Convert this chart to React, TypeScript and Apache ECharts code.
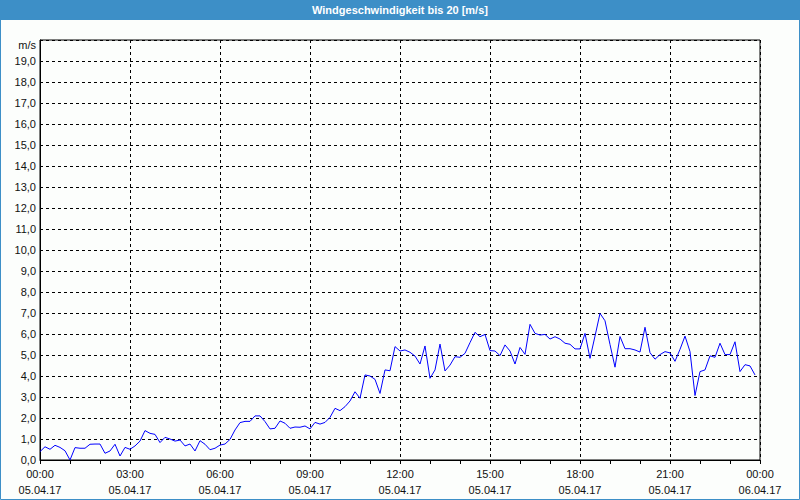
import React, { useEffect, useRef } from "react";
import * as echarts from "echarts";

const TITLE = "Windgeschwindigkeit bis 20 [m/s]";
const UNIT = "m/s";
const INTERVAL_MINUTES = 10;

// wind speed in m/s, one value every 10 minutes from 05.04.17 00:00 to 23:50
const windSpeed = [
  0.40, 0.63, 0.51, 0.70, 0.60, 0.44, 0.00, 0.59, 0.56, 0.56,
  0.75, 0.76, 0.76, 0.32, 0.43, 0.75, 0.19, 0.60, 0.51, 0.67,
  0.90, 1.40, 1.27, 1.22, 0.83, 1.08, 1.00, 0.90, 0.95, 0.67,
  0.76, 0.43, 0.92, 0.75, 0.49, 0.56, 0.71, 0.76, 0.98, 1.43,
  1.78, 1.84, 1.84, 2.10, 2.10, 1.83, 1.48, 1.51, 1.86, 1.75,
  1.51, 1.57, 1.56, 1.62, 1.48, 1.79, 1.71, 1.79, 2.03, 2.46,
  2.35, 2.54, 2.81, 3.25, 2.94, 4.05, 4.00, 3.84, 3.17, 4.29,
  4.25, 5.40, 5.19, 5.24, 5.13, 4.95, 4.57, 5.43, 3.89, 4.29,
  5.52, 4.24, 4.52, 4.92, 4.89, 5.08, 5.59, 6.08, 5.87, 5.98,
  5.21, 5.19, 4.97, 5.48, 5.19, 4.57, 5.36, 5.03, 6.46, 6.03,
  5.95, 5.98, 5.76, 5.87, 5.76, 5.56, 5.51, 5.29, 5.29, 6.03,
  4.84, 5.90, 6.98, 6.63, 5.50, 4.42, 5.88, 5.30, 5.30, 5.24,
  5.14, 6.32, 5.11, 4.80, 5.02, 5.16, 5.10, 4.70, 5.27, 5.90,
  5.16, 3.07, 4.21, 4.29, 4.96, 4.89, 5.56, 5.02, 5.02, 5.63,
  4.21, 4.54, 4.48, 4.05,
];

const timeLabels = ["00:00", "03:00", "06:00", "09:00", "12:00", "15:00", "18:00", "21:00", "00:00"];
const dateLabels = ["05.04.17", "05.04.17", "05.04.17", "05.04.17", "05.04.17", "05.04.17", "05.04.17", "05.04.17", "06.04.17"];

const BLUE = "#3d8fc7";
const FONT = "Liberation Sans";

export default function App() {
  const ref = useRef<HTMLDivElement>(null);
  useEffect(() => {
    if (!ref.current) return;
    const chart = echarts.init(ref.current, undefined, { renderer: "svg" });
    const data = windSpeed.map((v, i) => [i * INTERVAL_MINUTES, v]);
    const dash = [3, 3];
    chart.setOption({
      animation: false,
      backgroundColor: "#fcfefc",
      textStyle: { fontFamily: FONT },
      grid: {
        left: 40,
        right: 40,
        top: 40,
        bottom: 40,
        show: true,
        borderColor: "#000",
        borderWidth: 1,
        containLabel: false,
      },
      graphic: [
        { type: "rect", shape: { x: 0, y: 0, width: 800, height: 20 }, style: { fill: BLUE }, z: 10 },
        {
          type: "rect",
          shape: { x: 0.5, y: 0.5, width: 799, height: 499 },
          style: { fill: "none", stroke: BLUE, lineWidth: 1 },
          z: 10,
        },
        {
          type: "text",
          x: 400,
          y: 10,
          style: {
            text: TITLE,
            fill: "#ffffff",
            font: `bold 11px "${FONT}"`,
            textAlign: "center",
            textVerticalAlign: "middle",
          },
          z: 11,
        },
      ],
      xAxis: {
        type: "value",
        min: 0,
        max: 1440,
        interval: 180,
        axisLine: { show: true, onZero: false, lineStyle: { color: "#000", width: 1 } },
        axisTick: { show: true, length: 4, lineStyle: { color: "#000" } },
        minorTick: { show: true, splitNumber: 3, length: 4, lineStyle: { color: "#000" } },
        splitLine: { show: true, lineStyle: { color: "#000", type: dash, width: 1 } },
        axisLabel: {
          color: "#111",
          fontSize: 11,
          fontFamily: FONT,
          lineHeight: 16,
          margin: 6,
          showMinLabel: true,
          showMaxLabel: true,
          formatter: (val: number) => {
            const idx = Math.round(val / 180);
            return `${timeLabels[idx]}\n${dateLabels[idx]}`;
          },
        },
      },
      yAxis: {
        type: "value",
        min: 0,
        max: 20,
        interval: 1,
        axisLine: { show: true, lineStyle: { color: "#000", width: 1 } },
        axisTick: { show: false },
        splitLine: { show: true, lineStyle: { color: "#000", type: dash, width: 1 } },
        axisLabel: {
          color: "#111",
          fontSize: 11,
          fontFamily: FONT,
          margin: 4,
          showMaxLabel: true,
          formatter: (val: number) => (val >= 20 ? `{u|${UNIT}}` : val.toFixed(1).replace(".", ",")),
          rich: { u: { fontSize: 11, fontFamily: FONT, color: "#111", padding: [10, 0, 0, 0] } },
        },
      },
      series: [
        {
          type: "line",
          data,
          showSymbol: false,
          symbol: "none",
          lineStyle: { color: "#0000ff", width: 1 },
          z: 5,
        },
      ],
    });
    return () => chart.dispose();
  }, []);
  return (
    <div
      ref={ref}
      style={{ position: "absolute", left: 0, top: 0, width: 800, height: 500 }}
    />
  );
}
